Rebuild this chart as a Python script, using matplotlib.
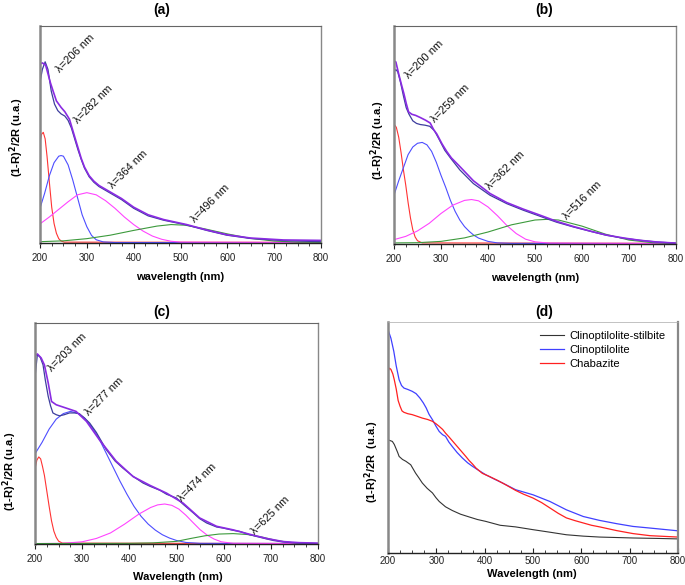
import matplotlib
matplotlib.use('Agg')
import matplotlib.pyplot as plt
from matplotlib.ticker import MultipleLocator

plt.rcParams['font.family'] = ['Liberation Sans', 'DejaVu Sans']

# ---- data: wavelength (nm) and intensity as a fraction of the panel height ----
# panel (a)
a_red_x = [200, 203, 207, 211, 215, 220, 225, 230, 235, 240, 245, 252, 800]
a_red_y = [0.46, 0.50, 0.51, 0.48, 0.40, 0.28, 0.165, 0.09, 0.045, 0.02, 0.009, 0.004, 0.003]
a_blue_x = [200, 210, 220, 230, 240, 245, 250, 260, 270, 280, 290, 300, 310, 320, 335, 360, 800]
a_blue_y = [0.16, 0.23, 0.31, 0.37, 0.40, 0.403, 0.40, 0.36, 0.29, 0.21, 0.13, 0.075, 0.035, 0.015, 0.005, 0.002, 0.002]
a_mag_x = [200, 220, 240, 260, 280, 300, 320, 340, 360, 380, 400, 420, 440, 460, 480, 500, 800]
a_mag_y = [0.088, 0.12, 0.155, 0.19, 0.222, 0.232, 0.222, 0.195, 0.16, 0.12, 0.085, 0.055, 0.032, 0.017, 0.008, 0.004, 0.002]
a_green_x = [200, 250, 300, 350, 400, 450, 480, 510, 550, 600, 650, 700, 750, 800]
a_green_y = [0.006, 0.01, 0.02, 0.036, 0.058, 0.078, 0.085, 0.082, 0.066, 0.042, 0.021, 0.009, 0.004, 0.003]
a_fit_x = [200, 205, 211, 217, 224, 231, 238, 245, 253, 260, 267, 274, 281, 288, 295, 305, 315, 326,
           338, 350, 374, 400, 431, 464, 513, 556, 599, 649, 720, 800]
a_fit_y = [0.74, 0.80, 0.835, 0.80, 0.70, 0.64, 0.61, 0.595, 0.585, 0.565, 0.53, 0.48, 0.43, 0.385, 0.345,
           0.305, 0.28, 0.26, 0.245, 0.23, 0.20, 0.16, 0.125, 0.105, 0.083, 0.058, 0.036, 0.021, 0.011, 0.006]
a_exp_x = [200, 205, 212, 217, 222, 228, 235, 245, 253, 263, 274, 281, 288, 295, 305, 315, 326, 338,
           350, 374, 400, 431, 464, 513, 556, 599, 649, 720, 800]
a_exp_y = [0.825, 0.83, 0.82, 0.78, 0.74, 0.70, 0.655, 0.625, 0.605, 0.57, 0.49, 0.44, 0.39, 0.35, 0.31,
           0.285, 0.265, 0.25, 0.235, 0.205, 0.165, 0.13, 0.108, 0.085, 0.06, 0.038, 0.023, 0.014, 0.012]
a_peaks = ['206', '282', '364', '496']

# panel (b)
b_red_x = [200, 205, 210, 215, 220, 225, 230, 235, 240, 245, 250, 260, 800]
b_red_y = [0.55, 0.535, 0.49, 0.42, 0.34, 0.27, 0.19, 0.12, 0.065, 0.032, 0.015, 0.005, 0.003]
b_blue_x = [200, 210, 220, 230, 240, 250, 260, 270, 280, 290, 300, 310, 320, 330, 340, 350, 360, 370,
            380, 400, 420, 450, 800]
b_blue_y = [0.224, 0.29, 0.35, 0.41, 0.445, 0.462, 0.466, 0.455, 0.425, 0.375, 0.315, 0.26, 0.2, 0.15,
            0.11, 0.08, 0.058, 0.04, 0.027, 0.012, 0.005, 0.003, 0.002]
b_mag_x = [200, 225, 250, 275, 300, 325, 350, 365, 380, 400, 420, 440, 460, 480, 500, 530, 800]
b_mag_y = [0.02, 0.035, 0.06, 0.095, 0.14, 0.178, 0.2, 0.204, 0.198, 0.17, 0.13, 0.085, 0.048, 0.022, 0.01, 0.004, 0.002]
b_green_x = [200, 250, 300, 350, 400, 450, 500, 525, 550, 600, 650, 700, 750, 800]
b_green_y = [0.005, 0.006, 0.012, 0.028, 0.055, 0.088, 0.11, 0.113, 0.11, 0.082, 0.045, 0.018, 0.006, 0.002]
b_fit_x = [200, 204, 208, 214, 220, 226, 232, 240, 248, 256, 266, 276, 286, 296, 308, 320, 340, 369,
           404, 440, 475, 511, 546, 582, 620, 652, 690, 723, 760, 800]
b_fit_y = [0.79, 0.80, 0.79, 0.74, 0.68, 0.625, 0.595, 0.565, 0.553, 0.548, 0.545, 0.54, 0.52, 0.48,
           0.43, 0.395, 0.34, 0.277, 0.224, 0.185, 0.155, 0.127, 0.10, 0.078, 0.057, 0.04, 0.026, 0.017, 0.009, 0.004]
b_exp_x = [200, 204, 210, 216, 221, 226, 231, 238, 246, 256, 267, 277, 285, 291, 302, 312, 322, 338,
           369, 404, 440, 475, 511, 546, 582, 620, 652, 690, 723, 760, 800]
b_exp_y = [0.84, 0.835, 0.78, 0.73, 0.69, 0.645, 0.606, 0.595, 0.59, 0.58, 0.568, 0.555, 0.522, 0.505,
           0.46, 0.425, 0.395, 0.36, 0.29, 0.232, 0.19, 0.16, 0.132, 0.104, 0.08, 0.058, 0.041, 0.027,
           0.017, 0.009, 0.004]
b_peaks = ['200', '259', '362', '516']

# panel (c)
c_red_x = [200, 204, 208, 212, 216, 220, 225, 230, 235, 240, 245, 250, 258, 800]
c_red_y = [0.34, 0.38, 0.394, 0.385, 0.35, 0.31, 0.24, 0.17, 0.105, 0.058, 0.03, 0.013, 0.004, 0.002]
c_blue_x = [200, 215, 230, 245, 260, 275, 290, 305, 320, 335, 350, 365, 380, 395, 410, 425, 440, 455,
            470, 485, 500, 520, 550, 800]
c_blue_y = [0.408, 0.46, 0.52, 0.565, 0.59, 0.6, 0.592, 0.57, 0.53, 0.48, 0.415, 0.35, 0.285, 0.225,
            0.17, 0.125, 0.09, 0.063, 0.042, 0.027, 0.016, 0.007, 0.003, 0.002]
c_mag_x = [200, 260, 300, 330, 360, 390, 420, 445, 460, 475, 490, 505, 520, 535, 550, 565, 580, 595, 620, 800]
c_mag_y = [0.002, 0.003, 0.01, 0.025, 0.05, 0.09, 0.135, 0.165, 0.177, 0.181, 0.175, 0.158, 0.13,
           0.097, 0.065, 0.04, 0.022, 0.01, 0.003, 0.002]
c_green_x = [200, 400, 450, 500, 530, 560, 590, 620, 650, 680, 710, 740, 770, 800]
c_green_y = [0.002, 0.003, 0.005, 0.012, 0.025, 0.037, 0.045, 0.047, 0.043, 0.032, 0.017, 0.007, 0.003, 0.002]
c_fit_x = [200, 205, 211, 217, 222, 228, 233, 238, 245, 252, 262, 273, 284, 294, 305, 316, 330, 351,
           370, 386, 408, 429, 444, 465, 479, 500, 514, 536, 549, 564, 585, 599, 620, 634, 655, 670,
           691, 705, 726, 760, 800]
c_fit_y = [0.755, 0.857, 0.845, 0.811, 0.74, 0.668, 0.625, 0.593, 0.585, 0.58, 0.585, 0.593, 0.593,
           0.59, 0.57, 0.547, 0.505, 0.427, 0.375, 0.344, 0.306, 0.276, 0.261, 0.243, 0.225, 0.208,
           0.18, 0.14, 0.115, 0.095, 0.077, 0.072, 0.062, 0.057, 0.042, 0.034, 0.023, 0.016, 0.009, 0.004, 0.002]
c_exp_x = [200, 205, 213, 220, 228, 235, 245, 266, 287, 309, 337, 372, 408, 444, 479, 514, 549, 585,
           620, 655, 691, 726, 760, 800]
c_exp_y = [0.85, 0.86, 0.842, 0.81, 0.729, 0.645, 0.63, 0.615, 0.60, 0.555, 0.47, 0.375, 0.305, 0.265,
           0.23, 0.185, 0.118, 0.08, 0.064, 0.044, 0.025, 0.011, 0.006, 0.004]
c_peaks = ['203', '277', '474', '625']

# panel (d)
d_names = ['Clinoptilolite-stilbite', 'Clinoptilolite', 'Chabazite']
d_black_x = [200, 209, 213, 216, 220, 223, 230, 237, 247, 257, 264, 271, 281, 292, 299, 306, 319, 333,
             350, 368, 385, 402, 432, 464, 500, 535, 569, 604, 638, 673, 707, 760, 800]
d_black_y = [0.49, 0.483, 0.47, 0.455, 0.435, 0.418, 0.405, 0.397, 0.382, 0.346, 0.325, 0.303, 0.28,
             0.26, 0.24, 0.223, 0.2, 0.184, 0.168, 0.156, 0.145, 0.137, 0.12, 0.113, 0.101, 0.09, 0.079,
             0.073, 0.069, 0.067, 0.065, 0.063, 0.061]
d_blue_x = [200, 206, 212, 217, 223, 228, 233, 241, 250, 258, 266, 273, 279, 285, 292, 299, 306, 313,
            319, 326, 333, 343, 354, 365, 375, 388, 402, 420, 437, 464, 500, 535, 569, 604, 638, 673,
            707, 742, 800]
d_blue_y = [0.967, 0.93, 0.873, 0.81, 0.75, 0.725, 0.714, 0.708, 0.70, 0.69, 0.671, 0.65, 0.628, 0.60,
            0.577, 0.55, 0.526, 0.512, 0.505, 0.48, 0.461, 0.435, 0.411, 0.39, 0.375, 0.357, 0.339,
            0.32, 0.303, 0.274, 0.252, 0.223, 0.187, 0.158, 0.141, 0.127, 0.115, 0.108, 0.096]
d_red_x = [200, 203, 206, 210, 213, 217, 221, 225, 229, 233, 241, 250, 260, 271, 282, 292, 299, 306,
           313, 319, 326, 333, 340, 347, 354, 361, 368, 375, 382, 395, 409, 426, 443, 464, 480, 500,
           518, 535, 552, 569, 587, 604, 621, 638, 673, 707, 742, 800]
d_red_y = [0.786, 0.80, 0.795, 0.775, 0.75, 0.71, 0.66, 0.635, 0.615, 0.609, 0.603, 0.599, 0.592,
           0.584, 0.578, 0.57, 0.56, 0.548, 0.535, 0.519, 0.503, 0.486, 0.469, 0.452, 0.435, 0.418,
           0.40, 0.385, 0.368, 0.345, 0.332, 0.315, 0.296, 0.271, 0.255, 0.238, 0.218, 0.195, 0.172,
           0.152, 0.14, 0.13, 0.12, 0.113, 0.097, 0.084, 0.075, 0.069]

x_ticks = [200, 300, 400, 500, 600, 700, 800]

# ---- figure ----
W, H = 685, 585
fig = plt.figure(figsize=(W / 100, H / 100), dpi=100)


def px_axes(left, top, right, bottom):
    return fig.add_axes([left / W, 1 - bottom / H, (right - left) / W, (bottom - top) / H])


def ftext(x, y, s, **kw):
    fig.text(x / W, 1 - y / H, s, **kw)


def style(ax, inward=False):
    ax.set_xlim(200, 800)
    ax.set_ylim(0, 1)
    ax.set_xticks(x_ticks)
    ax.xaxis.set_minor_locator(MultipleLocator(25))
    ax.set_yticks([])
    d = 'in' if inward else 'out'
    ax.tick_params(axis='x', which='major', direction=d, length=3.5, width=0.8,
                   labelsize=7, pad=2 if inward else 4, colors='#222222')
    ax.tick_params(axis='x', which='minor', direction=d, length=2, width=0.6, colors='#222222')
    ax.spines['left'].set_color('#888888')
    ax.spines['left'].set_linewidth(1.8)
    ax.spines['right'].set_color('#888888')
    ax.spines['right'].set_linewidth(1.6 if inward else 1.0)
    ax.spines['top'].set_color('#666666' if not inward else '#aaaaaa')
    ax.spines['top'].set_linewidth(0.8 if not inward else 0.5)
    ax.spines['bottom'].set_color('#222222')
    ax.spines['bottom'].set_linewidth(1.0)


def fit_panel(ax, comps, fit, exp, peaks, anchors):
    colors = ['#ff3333', '#4d4dff', '#ff44ff', '#3c9a3c']
    for (xs, ys), c in zip(comps, colors):
        ax.plot(xs, ys, color=c, lw=0.8)
    ax.plot(fit[0], fit[1], color='#3d3d9e', lw=0.9)
    ax.plot(exp[0], exp[1], color='#8a2be2', lw=1.2)
    for p, (ax_x, ax_y) in zip(peaks, anchors):
        ax.text(ax_x, ax_y, '\u03bb=' + p + ' nm', rotation=45, rotation_mode='anchor',
                ha='left', va='baseline', fontsize=8, color='#111111')


# (a)
ax_a = px_axes(40, 26, 321, 243)
style(ax_a)
fit_panel(ax_a,
          [(a_red_x, a_red_y), (a_blue_x, a_blue_y), (a_mag_x, a_mag_y), (a_green_x, a_green_y)],
          (a_fit_x, a_fit_y), (a_exp_x, a_exp_y), a_peaks,
          [(242, 0.785), (282, 0.55), (356, 0.25), (530, 0.09)])

# (b)
ax_b = px_axes(394, 26, 676, 244)
style(ax_b)
fit_panel(ax_b,
          [(b_red_x, b_red_y), (b_blue_x, b_blue_y), (b_mag_x, b_mag_y), (b_green_x, b_green_y)],
          (b_fit_x, b_fit_y), (b_exp_x, b_exp_y), b_peaks,
          [(232, 0.755), (287, 0.556), (404, 0.25), (569, 0.112)])

# (c)
ax_c = px_axes(35, 323, 318, 544)
style(ax_c)
fit_panel(ax_c,
          [(c_red_x, c_red_y), (c_blue_x, c_blue_y), (c_mag_x, c_mag_y), (c_green_x, c_green_y)],
          (c_fit_x, c_fit_y), (c_exp_x, c_exp_y), c_peaks,
          [(237, 0.777), (314, 0.581), (512, 0.188), (667, 0.04)])

# (d)
ax_d = px_axes(388, 322, 678, 553)
style(ax_d, inward=True)
ax_d.plot(d_black_x, d_black_y, color='#333333', lw=0.8, label=d_names[0])
ax_d.plot(d_blue_x, d_blue_y, color='#4040ff', lw=0.9, label=d_names[1])
ax_d.plot(d_red_x, d_red_y, color='#ff2020', lw=0.9, label=d_names[2])
ax_d.legend(loc='upper left', bbox_to_anchor=((540 - 388) / 290, 1 - (331 - 322) / 231),
            frameon=False, fontsize=8, handlelength=2.2, handletextpad=0.4,
            labelspacing=0.35, borderpad=0, borderaxespad=0)

# titles and labels
for x, y, s in [(162, 10, '(a)'), (544, 10, '(b)'), (162, 312, '(c)'), (544, 312, '(d)')]:
    ftext(x, y, s, ha='center', va='center', fontsize=10, fontweight='bold')

ftext(180, 277, 'wavelength (nm)', ha='center', va='center', fontsize=8, fontweight='bold')
ftext(535, 278, 'wavelength (nm)', ha='center', va='center', fontsize=8, fontweight='bold')
ftext(178, 577, 'Wavelength (nm)', ha='center', va='center', fontsize=8, fontweight='bold')
ftext(532, 574, 'Wavelength (nm)', ha='center', va='center', fontsize=8, fontweight='bold')

ylab = '(1-R)$^{\\mathbf{2}}$/2R (u.a.)'
ftext(17, 137, ylab, ha='center', va='center', rotation=90, fontsize=8, fontweight='bold')
ftext(378, 140, ylab, ha='center', va='center', rotation=90, fontsize=8, fontweight='bold')
ftext(10, 471, ylab, ha='center', va='center', rotation=90, fontsize=8, fontweight='bold')
ftext(372, 462, '(1-R)$^{\\mathbf{2}}$/2R  (u.a.)', ha='center', va='center', rotation=90,
      fontsize=8, fontweight='bold')

fig.savefig('out.png', dpi=100)
